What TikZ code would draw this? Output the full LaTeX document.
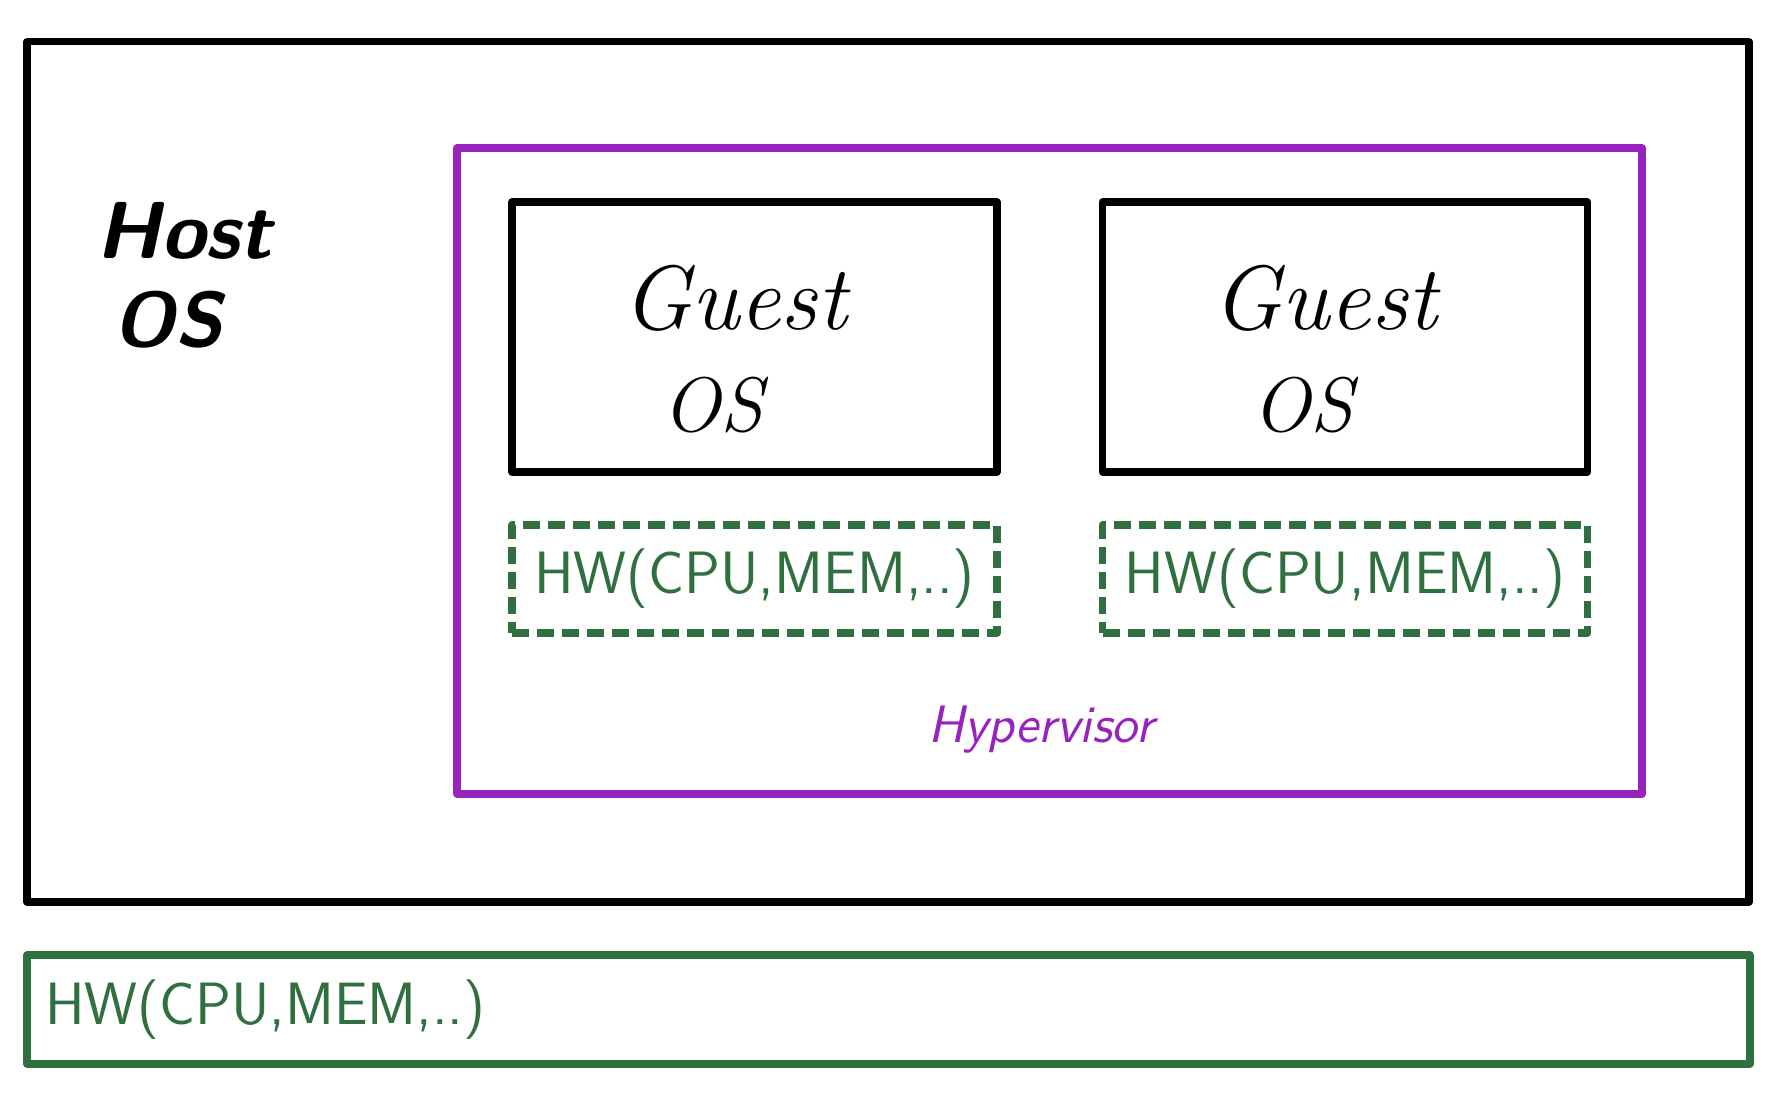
\documentclass[tikz,border=0pt]{standalone}
\usepackage{fontspec}
\usepackage{tikz}
\usetikzlibrary{positioning}
\definecolor{hvpurple}{RGB}{152,34,190}
\definecolor{hwgreen}{RGB}{48,112,64}

\begin{document}
\begin{tikzpicture}[
    every node/.style={inner sep=0pt,outer sep=0pt},
    box/.style={draw,line width=2pt,line join=round,minimum width=#1},
    hwlabel/.style={font=\fontsize{17}{19}\selectfont\sffamily,text=hwgreen},
    guestlabel/.style={font=\fontsize{26}{28}\selectfont\itshape,anchor=base},
  ]
    \useasboundingbox (0,0) rectangle (17.83,10.94);
    % host, hypervisor and the hardware below
    \node[box=17.22cm,minimum height=8.60cm] (host) at (8.88,6.22) {};
    \node[box=11.85cm,minimum height=6.46cm,hvpurple] (hv) at (10.495,6.23) {};
    \node[box=17.23cm,minimum height=1.09cm,hwgreen] (hwbar) at (8.885,0.845) {};
    % guests
    \node[box=4.85cm,minimum height=2.70cm] (g1) at (7.545,7.57) {};
    \node[box=4.85cm,minimum height=2.70cm] (g2) at (13.45,7.57) {};
    \node[box=4.85cm,minimum height=1.08cm,hwgreen,dash pattern=on 0.17cm off 0.08cm,hwlabel] (vhw1) at (7.545,5.15) {HW(CPU,MEM,..)};
    \node[box=4.85cm,minimum height=1.08cm,hwgreen,dash pattern=on 0.17cm off 0.08cm,hwlabel] (vhw2) at (13.45,5.15) {HW(CPU,MEM,..)};
    \foreach \g in {g1,g2} {
        \node[guestlabel] at ([xshift=-0.2cm,yshift=0.07cm]\g.center) {Guest};
        \node[guestlabel,font=\fontsize{22}{24}\selectfont\itshape] at ([xshift=-0.42cm,yshift=-0.95cm]\g.center) {OS};
    }
    % labels
    \node[anchor=base west,font=\fontsize{23}{25}\selectfont\sffamily\bfseries\slshape] (hostlbl) at (0.97,8.35) {Host};
    \node[anchor=base west,font=\fontsize{22}{24}\selectfont\sffamily\bfseries\slshape] (hostos) at (1.14,7.47) {OS};
    \node[font=\fontsize{15}{17}\selectfont\sffamily\itshape,text=hvpurple] (hvlbl) at (10.41,3.64) {Hypervisor};
    \node[hwlabel,right=0.18cm of hwbar.west] (hwlbl) {HW(CPU,MEM,..)};
\end{tikzpicture}
\end{document}
